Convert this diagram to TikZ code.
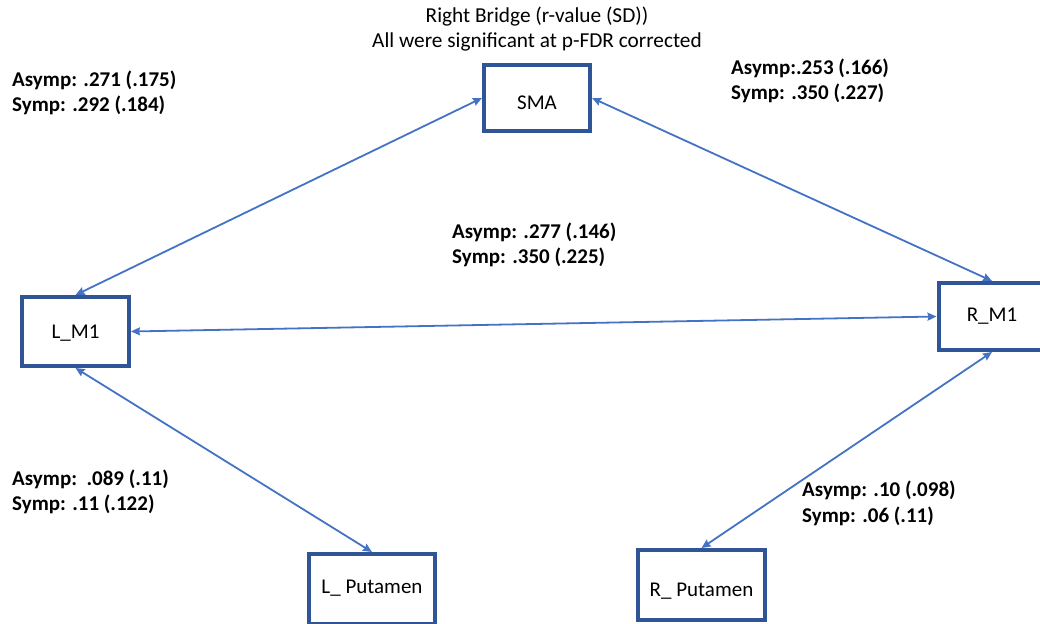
\documentclass[tikz,border=0pt]{standalone}
\usepackage{fontspec}
\setmainfont{Carlito}
\usetikzlibrary{arrows.meta}
\definecolor{boxblue}{HTML}{2F5597}
\definecolor{linkblue}{HTML}{4472C4}
\tikzset{
  region/.style={draw=boxblue, line width=4pt, fill=white, inner sep=0pt,
    font=\fontsize{21}{25}\selectfont},
  link/.style={draw=linkblue, line width=1.8pt,
    {Stealth[length=9pt,width=8pt,inset=1pt]}-{Stealth[length=9pt,width=8pt,inset=1pt]}},
  stat/.style={anchor=north west, inner sep=0pt, align=left,
    font=\bfseries\fontsize{21}{24.5}\selectfont},
  heading/.style={inner sep=0pt, anchor=base, font=\fontsize{21.3}{25}\selectfont}
}
\begin{document}
\begin{tikzpicture}[x=1pt, y=-1pt]
\useasboundingbox (0,0) rectangle (1040,623);

% title
\node[heading] (title) at (537,23) {Right Bridge (r-value (SD))};
\node[heading] (subtitle) at (537,48) {All were significant at p-FDR corrected};

% regions
\node[region, minimum width=106pt, minimum height=66pt, text height=23pt, text depth=0pt] (SMA) at (537,98) {SMA};
\node[region, minimum width=107pt, minimum height=69pt, text height=14pt, text depth=1pt] (LM1) at (75.5,331.5) {L\_M1};
\node[region, minimum width=107pt, minimum height=67pt, text height=13pt, text depth=3pt] (RM1) at (992,316.5) {R\_M1};
\node[region, minimum width=126pt, minimum height=70pt, text height=13pt, text depth=4pt] (LPut) at (372,589) {L\_ Putamen};
\node[region, minimum width=127pt, minimum height=70pt, text height=23pt, text depth=0pt] (RPut) at (701.5,585) {R\_ Putamen};

% connections
\draw[link] (SMA.west) -- (LM1.north);
\draw[link] (SMA.east) -- (RM1.north);
\draw[link] (LM1.east) -- (RM1.west);
\draw[link] (LM1.south) -- (LPut.north);
\draw[link] (RM1.south) -- (RPut.north);

% correlation values
\node[stat] (sLS) at (12,71) {Asymp: .271 (.175)\\Symp: .292 (.184)};
\node[stat] (sRS) at (731,59) {Asymp:.253 (.166)\\Symp: .350 (.227)};
\node[stat] (sLR) at (452,223) {Asymp: .277 (.146)\\Symp: .350 (.225)};
\node[stat] (sLL) at (12,470) {Asymp:\ \ .089 (.11)\\Symp: .11 (.122)};
\node[stat, font=\bfseries\fontsize{21}{25.5}\selectfont] (sRR) at (802,481) {Asymp: .10 (.098)\\Symp: .06 (.11)};
\end{tikzpicture}
\end{document}
